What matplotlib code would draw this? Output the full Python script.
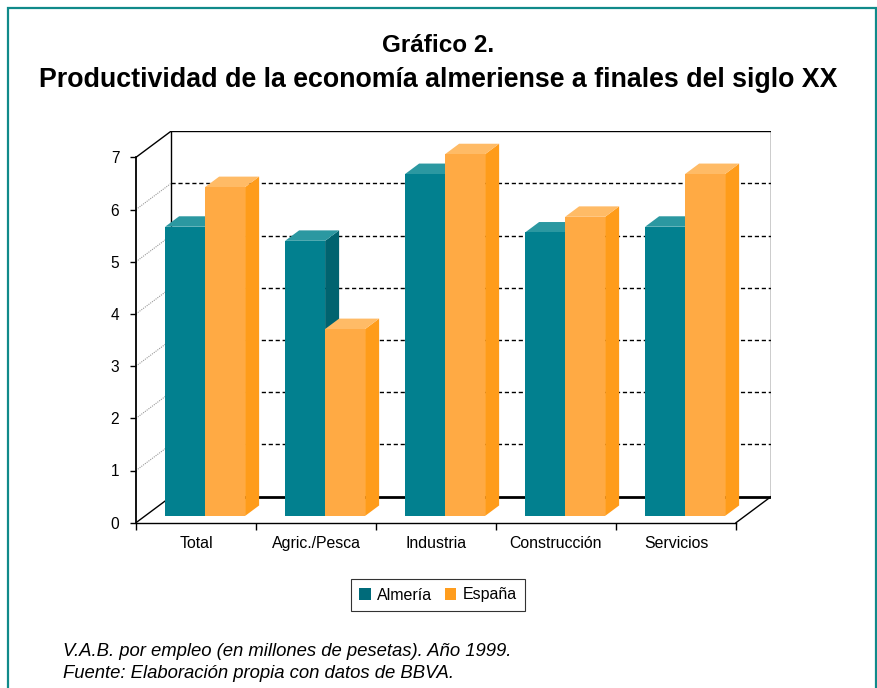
import matplotlib.pyplot as plt
from matplotlib.patches import Polygon, Rectangle, Patch

plt.rcParams['font.family'] = ['Liberation Sans', 'DejaVu Sans']

categorias = ['Total', 'Agric./Pesca', 'Industria', 'Construcción', 'Servicios']
almeria = [5.54, 5.27, 6.55, 5.43, 5.54]
espana = [6.30, 3.58, 6.93, 5.73, 6.55]
series = ['Almería', 'España']

# colores: frente, tapa, lateral
col_alm = ('#02808F', '#2B98A1', '#00636F')
col_esp = ('#FFAA44', '#FFBB66', '#FF9C1A')
leg_alm = '#006B7A'
leg_esp = '#FF9D1E'

# proyeccion oblicua: desplazamiento del fondo en unidades de datos
DX, DY = 0.292, 0.5
F0, F1 = 0.26, 0.66
ANCHO = 1 / 3


def proy(x, v, f):
    return (x + f * DX, v + f * DY)


W, H = 877, 688
fig = plt.figure(figsize=(W / 100, H / 100), dpi=100)

# marco exterior
fig.patches.append(Rectangle((8 / W, -0.05), 868 / W, 1 - 8 / H + 0.05,
                             transform=fig.transFigure, fill=False,
                             edgecolor='#108A8A', linewidth=1.6))

ax = fig.add_axes([136 / W, 165.3 / H, (5 + DX) * 120 / W, (7 + DY) * 52.2 / H])
ax.set_xlim(0, 5 + DX)
ax.set_ylim(0, 7 + DY)
ax.patch.set_alpha(0)
for s in ('top', 'right'):
    ax.spines[s].set_visible(False)
ax.spines['left'].set_bounds(0, 7)
ax.spines['bottom'].set_bounds(0, 5)
ax.spines['left'].set_linewidth(1.3)
ax.spines['bottom'].set_linewidth(1.0)

ax.set_yticks(range(8))
ax.tick_params(axis='y', length=4, width=1, pad=8, labelsize=11.2)
ax.set_xticks(range(6))
ax.set_xticklabels([])
ax.set_xticks([i + 0.5 for i in range(5)], minor=True)
ax.set_xticklabels(categorias, minor=True)
ax.tick_params(axis='x', which='major', length=5, width=1)
ax.tick_params(axis='x', which='minor', length=0, pad=9.5, labelsize=11.4)

# paredes: lineas de fondo y suelo
ax.plot([DX, 5 + DX], [DY, DY], color='black', lw=2, zorder=2)
ax.plot([DX, DX, 5 + DX, 5 + DX], [DY, 7 + DY, 7 + DY, DY], color='black', lw=1, zorder=1)
ax.plot([0, DX], [0, DY], color='black', lw=1, zorder=1)
ax.plot([0, DX], [7, 7 + DY], color='black', lw=1, zorder=1)
ax.plot([5, 5 + DX], [0, DY], color='black', lw=1, zorder=1)
for v in range(1, 7):
    ax.plot([DX, 5 + DX], [v + DY, v + DY], color='black', lw=1,
            linestyle=(0, (3, 2)), zorder=1)
    ax.plot([0, DX], [v, v + DY], color='#999999', lw=0.8,
            linestyle=(0, (1, 1)), zorder=1)


def barra(x0, v, cols):
    frente, tapa, lado = cols
    x1 = x0 + ANCHO
    ax.add_patch(Polygon([proy(x1, 0, F0), proy(x1, v, F0), proy(x1, v, F1),
                          proy(x1, 0, F1)], closed=True, facecolor=lado,
                         edgecolor='none', zorder=3))
    ax.add_patch(Polygon([proy(x0, v, F0), proy(x1, v, F0), proy(x1, v, F1),
                          proy(x0, v, F1)], closed=True, facecolor=tapa,
                         edgecolor='none', zorder=3))
    ax.add_patch(Polygon([proy(x0, 0, F0), proy(x1, 0, F0), proy(x1, v, F0),
                          proy(x0, v, F0)], closed=True, facecolor=frente,
                         edgecolor='none', zorder=3))


for i in range(len(categorias)):
    barra(i + 0.5 - ANCHO, almeria[i], col_alm)
    barra(i + 0.5, espana[i], col_esp)

handles = [Patch(facecolor=leg_alm, edgecolor='none'),
           Patch(facecolor=leg_esp, edgecolor='none')]
leg = fig.legend(handles, series, loc='center', bbox_to_anchor=(438 / W, 1 - 595 / H),
                 ncol=2, frameon=True, fancybox=False, edgecolor='black',
                 fontsize=11.5, handlelength=0.7, handleheight=0.7,
                 handletextpad=0.4, columnspacing=0.8, borderpad=0.55)
leg.get_frame().set_linewidth(0.8)

fig.text(0.5, 1 - 45 / H, 'Gráfico 2.', ha='center', va='center',
         fontsize=17.5, fontweight='bold')
fig.text(0.5, 1 - 80 / H,
         'Productividad de la economía almeriense a finales del siglo XX',
         ha='center', va='center', fontsize=19.3, fontweight='bold')

fig.text(63 / W, 1 - 651 / H, 'V.A.B. por empleo (en millones de pesetas). Año 1999.',
         ha='left', va='center', fontsize=13.3, style='italic')
fig.text(63 / W, 1 - 674 / H, 'Fuente: Elaboración propia con datos de BBVA.',
         ha='left', va='center', fontsize=13.3, style='italic')

fig.savefig('out.png', dpi=100)
